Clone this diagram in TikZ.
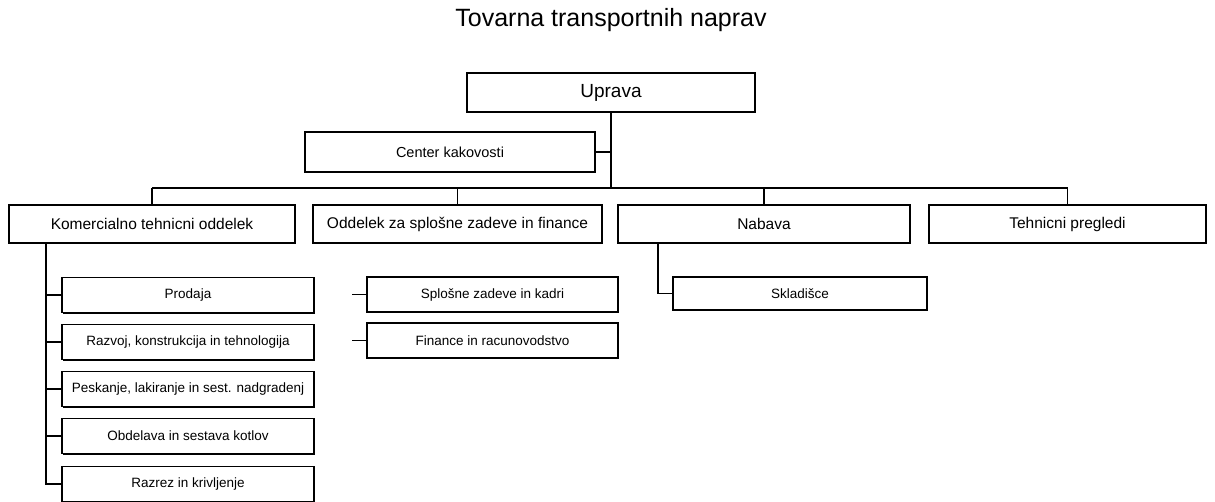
\documentclass[tikz,border=0pt]{standalone}
\usepackage{fontspec}
\setmainfont{Liberation Sans}
\usetikzlibrary{shadows}
\tikzset{
  orgchart/.style={
    x=1pt,
    y=-1pt,
    line width=1.8pt,
  },
  orgbox/.style={
    draw,
    line width=1.1pt,
    fill=white,
    inner sep=0pt,
    align=center,
    drop shadow={shadow xshift=1.4pt, shadow yshift=-1.4pt, opacity=1, fill=black},
  },
  board/.style={orgbox, minimum width=288pt, minimum height=39pt,
    font=\fontsize{19}{22}\selectfont},
  staff/.style={orgbox, minimum width=290pt, minimum height=40pt,
    font=\fontsize{14.5}{17}\selectfont},
  dept/.style={orgbox, minimum height=38pt,
    font=\fontsize{15.5}{18}\selectfont},
  section/.style={orgbox, minimum width=252pt, minimum height=35pt,
    font=\fontsize{13.5}{16}\selectfont},
}

\begin{document}
\begin{tikzpicture}[
  orgchart,
]
\useasboundingbox (0,0) rectangle (1215,502);

\node (title) at (611,20) {\fontsize{25}{28}\selectfont Tovarna transportnih naprav};

\node [board] (uprava) at (611,92.5) {Uprava};
\node [staff] (kakovost) at (450,152) {Center kakovosti};

\node [dept, minimum width=286pt] (komercialni) at (152,224) {Komercialno tehnicni oddelek};
\node [dept, minimum width=289pt] (splosni) at (457.5,224) {Oddelek za splošne zadeve in finance};
\node [dept, minimum width=292pt] (nabava) at (764,224) {Nabava};
\node [dept, minimum width=277pt] (pregledi) at (1067.5,224) {Tehnicni pregledi};

\node [section] (prodaja) at (188,295) {Prodaja};
\node [section] (razvoj) at (188,342) {Razvoj, konstrukcija in tehnologija};
\node [section] (peskanje) at (188,389) {Peskanje, lakiranje in sest. nadgradenj};
\node [section] (obdelava) at (188,436) {Obdelava in sestava kotlov};
\node [section] (razrez) at (188,484) {Razrez in krivljenje};

\node [section, minimum width=251pt] (kadri) at (492.5,294.5) {Splošne zadeve in kadri};
\node [section, minimum width=251pt] (racunovodstvo) at (492.5,340.5) {Finance in racunovodstvo};

\node [section, minimum width=254pt, minimum height=33pt] (skladisce) at (800,293.5) {Skladišce};

\coordinate (bus) at (0,188);
\coordinate (komspine) at (46,243);
\coordinate (nabspine) at (658,243);

\draw (uprava.south) -- (uprava.south |- bus);
\draw (kakovost.east) -- (kakovost.east -| uprava.south);
\draw (komercialni.north |- bus) -- (pregledi.north |- bus);
\draw (komercialni.north) -- (komercialni.north |- bus);
\draw (splosni.north) -- (splosni.north |- bus);
\draw (nabava.north) -- (nabava.north |- bus);
\draw (pregledi.north) -- (pregledi.north |- bus);

\draw (komspine) |- (razrez.west);
\draw (komspine |- prodaja.west) -- (prodaja.west);
\draw (komspine |- razvoj.west) -- (razvoj.west);
\draw (komspine |- peskanje.west) -- (peskanje.west);
\draw (komspine |- obdelava.west) -- (obdelava.west);

\draw (kadri.west) -- ++(-14,0);
\draw (racunovodstvo.west) -- ++(-14,0);

\draw (nabspine) |- (skladisce.west);
\end{tikzpicture}
\end{document}
